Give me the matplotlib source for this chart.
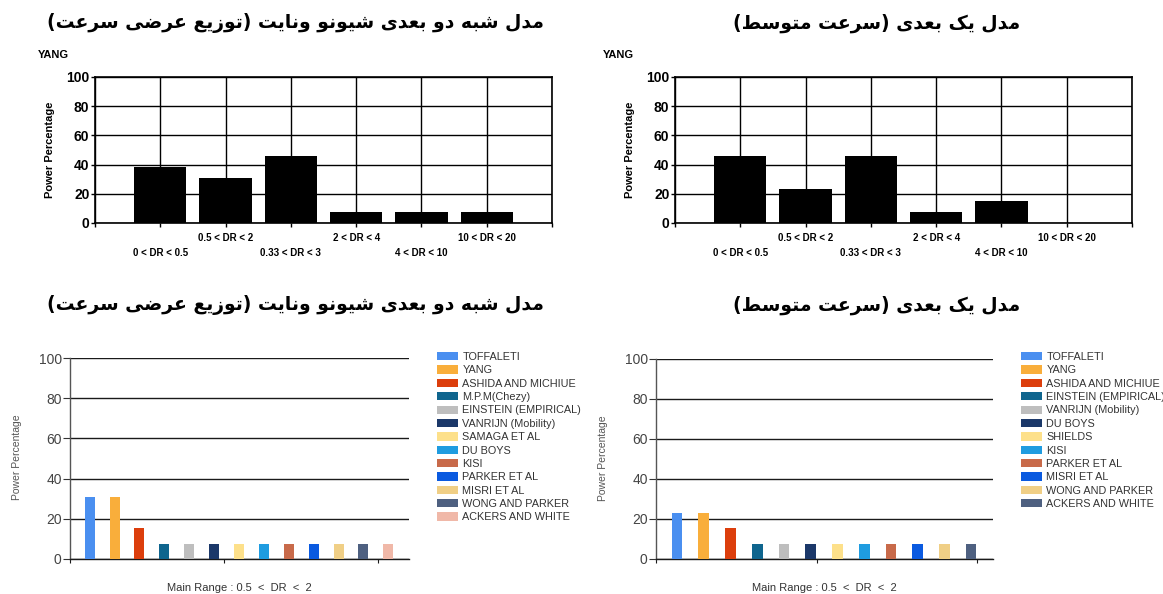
import matplotlib
matplotlib.use("Agg")
import matplotlib.pyplot as plt
from matplotlib.patches import Patch

W, H = 1163, 594

# titles (Persian)
TITLE_2D = "مدل شبه دو بعدی شیونو ونایت (توزیع عرضی سرعت)"
TITLE_1D = "مدل یک بعدی (سرعت متوسط)"

# top charts: YANG power percentage per DR range
RANGES = ["0 < DR < 0.5", "0.5 < DR < 2", "0.33 < DR < 3",
          "2 < DR < 4", "4 < DR < 10", "10 < DR < 20"]
YANG_2D = [38.46, 30.77, 46.15, 7.69, 7.69, 7.69]
YANG_1D = [46.15, 23.08, 46.15, 7.69, 15.38, 0.0]

# bottom charts: methods for main range 0.5 < DR < 2
METHODS_2D = ["TOFFALETI", "YANG", "ASHIDA AND MICHIUE", "M.P.M(Chezy)",
              "EINSTEIN (EMPIRICAL)", "VANRIJN (Mobility)", "SAMAGA ET AL",
              "DU BOYS", "KISI", "PARKER ET AL", "MISRI ET AL",
              "WONG AND PARKER", "ACKERS AND WHITE"]
VALUES_2D = [30.77, 30.77, 15.38, 7.69, 7.69, 7.69, 7.69,
             7.69, 7.69, 7.69, 7.69, 7.69, 7.69]
METHODS_1D = ["TOFFALETI", "YANG", "ASHIDA AND MICHIUE", "EINSTEIN (EMPIRICAL)",
              "VANRIJN (Mobility)", "DU BOYS", "SHIELDS", "KISI",
              "PARKER ET AL", "MISRI ET AL", "WONG AND PARKER", "ACKERS AND WHITE"]
VALUES_1D = [23.08, 23.08, 15.38, 7.69, 7.69, 7.69, 7.69,
             7.69, 7.69, 7.69, 7.69, 7.69]

PALETTE = ["#4a8ff0", "#f9ae3b", "#dc3e0c", "#0f658e", "#bebebe", "#1b3869",
           "#fde08a", "#1f9ce0", "#c86a4a", "#0a5ae0", "#f0cf86", "#4e6080",
           "#f0b8a8"]

NARROW = ["Liberation Sans Narrow", "Liberation Sans", "DejaVu Sans"]
SANS = ["Liberation Sans", "DejaVu Sans"]

# minimal Arabic-script shaping: (isolated, final, initial, medial)
FORMS = {
    "ا": ("\uFE8D", "\uFE8E", None, None),
    "ب": ("\uFE8F", "\uFE90", "\uFE91", "\uFE92"),
    "ت": ("\uFE95", "\uFE96", "\uFE97", "\uFE98"),
    "د": ("\uFEA9", "\uFEAA", None, None),
    "ر": ("\uFEAD", "\uFEAE", None, None),
    "ز": ("\uFEAF", "\uFEB0", None, None),
    "س": ("\uFEB1", "\uFEB2", "\uFEB3", "\uFEB4"),
    "ش": ("\uFEB5", "\uFEB6", "\uFEB7", "\uFEB8"),
    "ض": ("\uFEBD", "\uFEBE", "\uFEBF", "\uFEC0"),
    "ط": ("\uFEC1", "\uFEC2", "\uFEC3", "\uFEC4"),
    "ع": ("\uFEC9", "\uFECA", "\uFECB", "\uFECC"),
    "ل": ("\uFEDD", "\uFEDE", "\uFEDF", "\uFEE0"),
    "م": ("\uFEE1", "\uFEE2", "\uFEE3", "\uFEE4"),
    "ن": ("\uFEE5", "\uFEE6", "\uFEE7", "\uFEE8"),
    "ه": ("\uFEE9", "\uFEEA", "\uFEEB", "\uFEEC"),
    "و": ("\uFEED", "\uFEEE", None, None),
    "ی": ("\uFBFC", "\uFBFD", "\uFBFE", "\uFBFF"),
    "ک": ("\uFB8E", "\uFB8F", "\uFB90", "\uFB91"),
}


def shape(text):
    out = []
    for i, c in enumerate(text):
        if c not in FORMS:
            out.append(c)
            continue
        iso, fin, ini, med = FORMS[c]
        prev = text[i - 1] if i > 0 else ""
        nxt = text[i + 1] if i + 1 < len(text) else ""
        jp = prev in FORMS and FORMS[prev][2] is not None
        jn = ini is not None and nxt in FORMS
        out.append(med if (jp and jn) else fin if jp else ini if jn else iso)
    return "".join(out)[::-1].translate(str.maketrans("()", ")("))


def px_axes(fig, left, top, right, bottom):
    return fig.add_axes([left / W, 1 - bottom / H, (right - left) / W, (bottom - top) / H])


def top_chart(fig, box, values, xoff):
    ax = px_axes(fig, *box)
    x = list(range(1, len(RANGES) + 1))
    ax.bar(x, values, width=0.8, color="black", zorder=3)
    ax.set_xlim(0, len(RANGES) + 1)
    ax.set_ylim(0, 100)
    ax.set_xticks([0] + x + [len(RANGES) + 1])
    ax.set_xticklabels([])
    ax.set_yticks(range(0, 101, 20))
    ax.grid(True, color="black", lw=1.0, zorder=1)
    for s in ax.spines.values():
        s.set_color("black")
        s.set_linewidth(1.2)
        s.set_zorder(4)
    ax.tick_params(axis="x", length=3, width=1, color="black")
    ax.tick_params(axis="y", length=3, width=1, color="black", pad=1)
    for lab in ax.get_yticklabels():
        lab.set_family(NARROW)
        lab.set_fontweight("bold")
        lab.set_fontsize(10)
    for i, (xi, name) in enumerate(zip(x, RANGES)):
        yy = -0.205 if i % 2 == 0 else -0.103
        ax.text(xi, yy, name, transform=ax.get_xaxis_transform(), ha="center",
                va="center", fontsize=7, fontweight="bold", family=NARROW)
    ax.set_ylabel("Power Percentage", fontsize=8, fontweight="bold", family=NARROW,
                  labelpad=8)
    fig.text((xoff + 38) / W, 1 - 55 / H, "YANG", fontsize=8, fontweight="bold",
             family=NARROW, ha="left", va="center")
    return ax


def bottom_chart(fig, box, methods, values, xlim, xticks, legend_xy):
    ax = px_axes(fig, *box)
    x = list(range(len(methods)))
    ax.bar(x, values, width=0.4, color=PALETTE[:len(methods)], zorder=3)
    ax.set_xlim(*xlim)
    ax.set_ylim(0, 100)
    ax.set_yticks(range(0, 101, 20))
    ax.set_xticks(xticks)
    ax.set_xticklabels([])
    ax.grid(True, axis="y", color="#1a1a1a", lw=1.0, zorder=1)
    for s in ("top", "right"):
        ax.spines[s].set_visible(False)
    ax.spines["left"].set_color("#555555")
    ax.spines["bottom"].set_color("#1a1a1a")
    for s in ("left", "bottom"):
        ax.spines[s].set_linewidth(1.0)
    ax.tick_params(axis="y", length=5, color="#333333", labelsize=10,
                   labelcolor="#444444", pad=1)
    ax.tick_params(axis="x", length=3, color="#1a1a1a")
    for lab in ax.get_yticklabels():
        lab.set_family(SANS)
    ax.text(-0.156, 0.505, "Power Percentage", transform=ax.transAxes, rotation=90,
            ha="center", va="center", fontsize=7.5, color="#555555", family=SANS)
    ax.text(0.5, -0.145, "Main Range : 0.5  <  DR  <  2", transform=ax.transAxes,
            ha="center", va="center", fontsize=8, color="#333333", family=SANS)
    handles = [Patch(facecolor=c, edgecolor="none") for c in PALETTE[:len(methods)]]
    fig.legend(handles, methods, loc="upper left",
               bbox_to_anchor=(legend_xy[0] / W, 1 - legend_xy[1] / H),
               frameon=False, borderpad=0, borderaxespad=0,
               prop={"family": SANS, "size": 7.8}, handlelength=1.9,
               handleheight=0.8, handletextpad=0.45, labelspacing=0.31,
               labelcolor="#333333")
    return ax


fig = plt.figure(figsize=(W / 100, H / 100), dpi=100)
fig.patch.set_facecolor("white")

for cx, cy, title in [(295, 23, TITLE_2D), (877, 23, TITLE_1D),
                      (295, 305, TITLE_2D), (877, 305, TITLE_1D)]:
    fig.text(cx / W, 1 - cy / H, shape(title), ha="center", va="center",
             fontsize=13.5, fontweight="bold", family="DejaVu Sans")

top_chart(fig, (95, 77, 552, 223), YANG_2D, 0)
top_chart(fig, (675, 77, 1132, 223), YANG_1D, 565)

bottom_chart(fig, (70, 358, 409, 559), METHODS_2D, VALUES_2D,
             (-0.79, 12.83), [-0.79, 5.39, 11.6], (437, 352))
bottom_chart(fig, (656, 359, 993, 559), METHODS_1D, VALUES_1D,
             (-0.79, 11.82), [-0.79, 5.22, 11.23], (1021, 352))

fig.savefig("out.png", dpi=100, facecolor="white")
